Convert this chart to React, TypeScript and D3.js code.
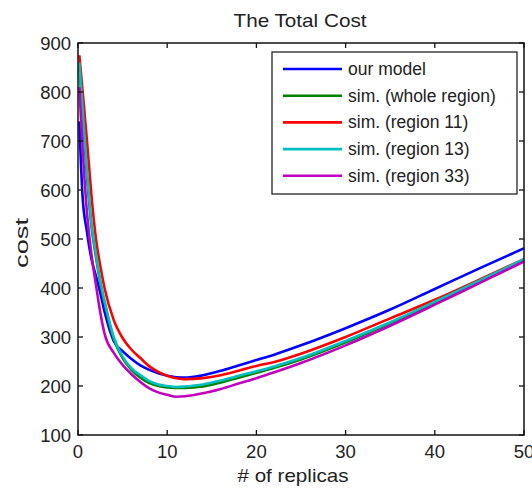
import React from "react";
import * as d3 from "d3";

const xs = [0.15, 0.5, 1, 1.5, 2, 2.5, 3, 4, 5, 6, 7, 8, 9, 10, 11, 12, 14, 16, 18, 20, 22, 25, 30, 35, 40, 45, 50];

const ourModel = [740, 590, 515, 460, 425, 390, 350, 292, 271, 255, 242, 233, 226, 221, 218, 217, 222, 231, 242, 253, 264, 283, 318, 356, 398, 440, 481];
const simWhole = [850, 760, 630, 528, 465, 410, 368, 297, 257, 233, 217, 206, 200, 197, 196, 196, 199, 207, 217, 227, 237, 254, 289, 328, 369, 412, 456];
const simRegion11 = [875, 805, 702, 590, 502, 445, 398, 335, 298, 274, 257, 240, 229, 221, 216, 214, 216, 222, 231, 241, 249, 266, 300, 338, 376, 417, 459];
const simRegion13 = [860, 770, 640, 535, 470, 415, 372, 300, 260, 236, 222, 210, 203, 200, 198, 199, 203, 211, 221, 230, 240, 257, 292, 330, 372, 415, 459];
const simRegion33 = [810, 690, 555, 470, 408, 350, 305, 268, 243, 224, 208, 195, 187, 182, 178, 179, 185, 194, 205, 216, 228, 247, 283, 323, 366, 410, 454];

const seriesNames = ["our model", "sim. (whole region)", "sim. (region 11)", "sim. (region 13)", "sim. (region 33)"];
const seriesValues = [ourModel, simWhole, simRegion11, simRegion13, simRegion33];
const seriesColors = ["#0000ff", "#008000", "#ff0000", "#00bfbf", "#bf00bf"];

const xTicks = [0, 10, 20, 30, 40, 50];
const yTicks = [100, 200, 300, 400, 500, 600, 700, 800, 900];

const W = 532;
const H = 491;
const L = 78, R = 524, T = 43, B = 435;
const FONT = "Arial, 'Liberation Sans', Helvetica, sans-serif";

export default function App() {
  const x = d3.scaleLinear().domain([0, 50]).range([L, R]);
  const y = d3.scaleLinear().domain([100, 900]).range([B, T]);
  const line = d3
    .line<number>()
    .x((_, i) => x(xs[i]))
    .y((d) => y(d))
    .curve(d3.curveMonotoneX);

  const legX = 272, legY = 52, legW = 245, legH = 142;
  const rowY = (i: number) => 69 + i * 26.7;

  return (
    <div style={{ position: "absolute", left: 0, top: 0 }}>
      <svg width={W} height={H} style={{ display: "block", background: "#fff" }} fontFamily={FONT}>
        <rect x={0} y={0} width={W} height={H} fill="#fff" />
        <defs>
          <clipPath id="plotclip">
            <rect x={L} y={T} width={R - L} height={B - T} />
          </clipPath>
        </defs>
        {/* title */}
        <text x={300} y={27} textAnchor="middle" fontSize={18.5} fill="#222" textLength={133} lengthAdjust="spacingAndGlyphs">
          The Total Cost
        </text>
        {/* data lines */}
        <g clipPath="url(#plotclip)">
          {seriesValues.map((vals, i) => (
            <path key={i} d={line(vals) || ""} fill="none" stroke={seriesColors[i]} strokeWidth={2.6} strokeLinejoin="round" />
          ))}
        </g>
        {/* axes box */}
        <rect x={L} y={T} width={R - L} height={B - T} fill="none" stroke="#111" strokeWidth={1.5} />
        {/* x ticks */}
        {xTicks.map((t) => (
          <g key={"x" + t}>
            <line x1={x(t)} x2={x(t)} y1={B} y2={B - 5} stroke="#111" strokeWidth={1.3} />
            <line x1={x(t)} x2={x(t)} y1={T} y2={T + 5} stroke="#111" strokeWidth={1.3} />
            <text x={x(t)} y={458} textAnchor="middle" fontSize={18.5} fill="#222">
              {t}
            </text>
          </g>
        ))}
        {/* y ticks */}
        {yTicks.map((t) => (
          <g key={"y" + t}>
            <line x1={L} x2={L + 5} y1={y(t)} y2={y(t)} stroke="#111" strokeWidth={1.3} />
            <line x1={R} x2={R - 5} y1={y(t)} y2={y(t)} stroke="#111" strokeWidth={1.3} />
            <text x={71} y={y(t) + 7} textAnchor="end" fontSize={18.5} fill="#222">
              {t}
            </text>
          </g>
        ))}
        {/* axis labels */}
        <text x={293} y={482} textAnchor="middle" fontSize={19} fill="#222" textLength={111} lengthAdjust="spacingAndGlyphs">
          # of replicas
        </text>
        <text transform="translate(28,243) rotate(-90)" textAnchor="middle" fontSize={19} fill="#222" textLength={50} lengthAdjust="spacingAndGlyphs">
          cost
        </text>
        {/* legend */}
        <rect x={legX} y={legY} width={legW} height={legH} fill="#fff" stroke="#111" strokeWidth={1.2} />
        {seriesNames.map((n, i) => (
          <g key={n}>
            <line x1={283} x2={342} y1={rowY(i)} y2={rowY(i)} stroke={seriesColors[i]} strokeWidth={2.6} />
            <text x={348} y={rowY(i) + 6} fontSize={17.5} fill="#222">
              {n}
            </text>
          </g>
        ))}
      </svg>
    </div>
  );
}
